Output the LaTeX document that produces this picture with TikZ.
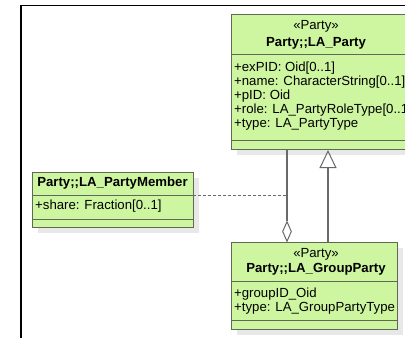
\documentclass[tikz,border=0pt]{standalone}
\usepackage{fontspec}
\setmainfont{Liberation Sans}
\usetikzlibrary{arrows.meta, shapes.geometric}
\definecolor{classfill}{RGB}{206,246,160}
\definecolor{classline}{RGB}{95,105,85}
\definecolor{shadowgray}{RGB}{232,232,232}
\definecolor{linkgray}{RGB}{105,105,105}

\begin{document}
\begin{tikzpicture}[x=1pt, y=-1pt,
  classbox/.style={draw=classline, fill=classfill, line width=0.9pt, rectangle,
    anchor=north west, inner sep=0pt, outer sep=0pt},
  divider/.style={draw=classline, line width=0.9pt},
  stereo/.style={font=\fontsize{13.2}{14}\selectfont, inner sep=0pt},
  cname/.style={font=\fontsize{13.2}{14}\selectfont\bfseries, inner sep=0pt},
  attr/.style={font=\fontsize{13.2}{14}\selectfont, inner sep=0pt, anchor=west},
  link/.style={draw=linkgray, line width=1.1pt},
  assoc/.style={draw=linkgray, line width=1pt, dash pattern=on 2.5pt off 2.5pt},
]
\useasboundingbox (0,0) rectangle (405,338);
\clip (0,0) rectangle (405,338);

% outer frame
\draw[line width=1.6pt] (21,338) -- (21,5.5) -- (405,5.5);

% class Party::LA_Party
\fill[shadowgray] (237,149) rectangle (420,155);
\node[classbox, minimum width=189pt, minimum height=135pt] (party) at (231,14) {};
\draw[divider] (231,54) -- (420,54);
\draw[divider] (231,140) -- (420,140);
\node[stereo] (partyst) at (316,26) {«Party»};
\node[cname] (partynm) at (316,43) {Party;;LA\_Party};
\node[attr] (pa1) at (234,68)  {+exPID: Oid[0..1]};
\node[attr] (pa2) at (234,82)  {+name: CharacterString[0..1]};
\node[attr] (pa3) at (234,96)  {+pID: Oid};
\node[attr] (pa4) at (234,110) {+role: LA\_PartyRoleType[0..1]};
\node[attr] (pa5) at (234,124) {+type: LA\_PartyType};

% class Party::LA_PartyMember
\fill[shadowgray] (38,178) rectangle (199,233);
\node[classbox, minimum width=161pt, minimum height=55pt] (member) at (32,172) {};
\draw[divider] (32,195) -- (193,195);
\draw[divider] (32,219) -- (193,219);
\node[cname] (membernm) at (112.5,183.5) {Party;;LA\_PartyMember};
\node[attr] (ma1) at (35,206) {+share: Fraction[0..1]};

% class Party::LA_GroupParty
\fill[shadowgray] (237,248) rectangle (403,335);
\node[classbox, minimum width=166pt, minimum height=87pt] (group) at (231,242) {};
\draw[divider] (231,281) -- (397,281);
\draw[divider] (231,320) -- (397,320);
\node[stereo] (groupst) at (316,254) {«Party»};
\node[cname] (groupnm) at (316,269) {Party;;LA\_GroupParty};
\node[attr] (ga1) at (234,294) {+groupID\_Oid};
\node[attr] (ga2) at (234,308) {+type: LA\_GroupPartyType};

% aggregation LA_GroupParty <>-- LA_Party
\coordinate (aggtop) at (287,149);
\node[diamond, draw=linkgray, fill=white, line width=1pt, inner sep=0pt,
  minimum width=9pt, minimum height=20pt, anchor=south] (aggdiamond) at (287,242) {};
\draw[link] (aggtop) -- (aggdiamond.north);

% generalization LA_GroupParty --|> LA_Party
\coordinate (genfrom) at (328,242);
\coordinate (gento) at (328,150);
\draw[link, -{Triangle[open, length=18pt, width=17pt, line width=1pt]}] (genfrom) -- (gento);

% association class link
\coordinate (assocstart) at (193,195);
\coordinate (assocend) at (287,195);
\draw[assoc] (assocstart) -- (assocend);
\end{tikzpicture}
\end{document}
